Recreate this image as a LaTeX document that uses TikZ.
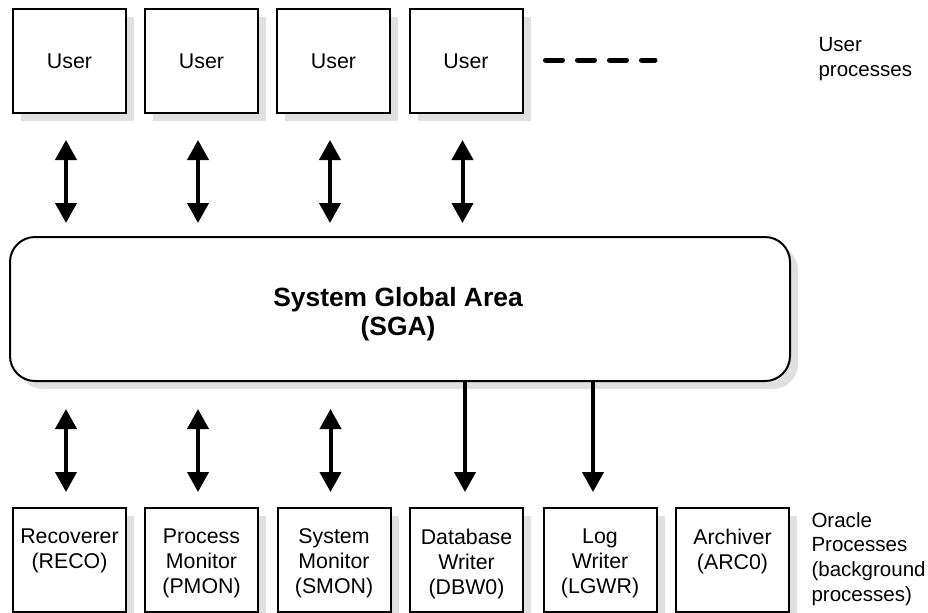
\documentclass[tikz,border=0pt]{standalone}
\usepackage{fontspec}
\setmainfont{Liberation Sans}
\usetikzlibrary{arrows.meta,shadows,calc}

\tikzset{every picture/.style={line width=0.75pt}}
\tikzset{
  procbox/.style={draw, line width=1.5pt, fill=white, minimum width=84.75pt, minimum height=78pt, inner sep=0pt,
    font=\fontsize{16}{18.75}\selectfont,
    drop shadow={shadow xshift=6pt, shadow yshift=-6pt, fill=black!12, opacity=1, draw=none}},
  proctext/.style={anchor=north, align=center, inner sep=0pt, font=\fontsize{16}{18.75}\selectfont},
  sidelabel/.style={anchor=west, align=left, inner sep=0pt, font=\fontsize{15.4}{18.5}\selectfont},
  biarrow/.style={line width=3pt, {Triangle[width=15.75pt,length=15pt]}-{Triangle[width=15.75pt,length=15pt]}},
  toarrow/.style={line width=3pt, -{Triangle[width=15.75pt,length=15pt]}},
  dashline/.style={line width=3.75pt, line cap=round, dash pattern=on 12.75pt off 11.25pt}
}

\begin{document}
\begin{tikzpicture}[x=0.75pt,y=0.75pt,yscale=-1,xscale=1]
  \useasboundingbox (0,0) rectangle (928,612);

  % user processes
  \node[procbox] (user1) at (69.5,61) {User};
  \node[procbox] (user2) at (201.5,61) {User};
  \node[procbox] (user3) at (333.5,61) {User};
  \node[procbox] (user4) at (466,61) {User};
  \coordinate (dashend) at (655,60);
  \draw[dashline] ($(user4.east)+(22,-1)$) -- (dashend);
  \node[sidelabel] (userlbl) at (818,59) {User\\processes};

  % SGA
  \node[draw, line width=1.5pt, fill=white, rounded corners=18.75pt, minimum width=585pt, minimum height=108pt,
    drop shadow={shadow xshift=6pt, shadow yshift=-6pt, fill=black!12, opacity=1, draw=none}] (sga) at (400,309) {};
  \node[align=center, font=\bfseries\fontsize{19.8}{21.5}\selectfont] (sgatxt) at (398,314) {System Global Area\\(SGA)};

  \foreach \u in {user1,user2,user3,user4}
    \draw[biarrow] ($(\u.south)+(-3.5,26)$) -- ($(\u.south |- sga.north)+(-3.5,-13)$);

  % oracle processes
  \node[procbox] (reco) at (69.5,560) {};
  \node[procbox] (pmon) at (201.5,560) {};
  \node[procbox] (smon) at (334,560) {};
  \node[procbox] (dbw) at (466.5,560) {};
  \node[procbox] (lgwr) at (600,560) {};
  \node[procbox] (arc) at (732.5,560) {};
  \node[proctext] (recotxt) at ($(reco.north)+(0,21.3)$) {Recoverer\\(RECO)};
  \node[proctext] (pmontxt) at ($(pmon.north)+(0,21.3)$) {Process\\Monitor\\(PMON)};
  \node[proctext] (smontxt) at ($(smon.north)+(0,21.3)$) {System\\Monitor\\(SMON)};
  \node[proctext] (dbwtxt) at ($(dbw.north)+(0,21.3)$) {Database\\Writer\\(DBW0)};
  \node[proctext] (lgwrtxt) at ($(lgwr.north)+(0,21.3)$) {Log\\Writer\\(LGWR)};
  \node[proctext] (arctxt) at ($(arc.north)+(0,21.3)$) {Archiver\\(ARC0)};
  \node[sidelabel] (oralbl) at (811,559) {Oracle\\Processes\\(background\\processes)};

  \foreach \p in {reco,pmon,smon}
    \draw[biarrow] ($(\p.north |- sga.south)+(-3.5,27)$) -- ($(\p.north)+(-3.5,-15)$);
  \draw[toarrow] ($(dbw.north |- sga.south)+(-1.5,0)$) -- ($(dbw.north)+(-1.5,-15)$);
  \draw[toarrow] ($(lgwr.north |- sga.south)+(-7,0)$) -- ($(lgwr.north)+(-7,-15)$);

\end{tikzpicture}
\end{document}
